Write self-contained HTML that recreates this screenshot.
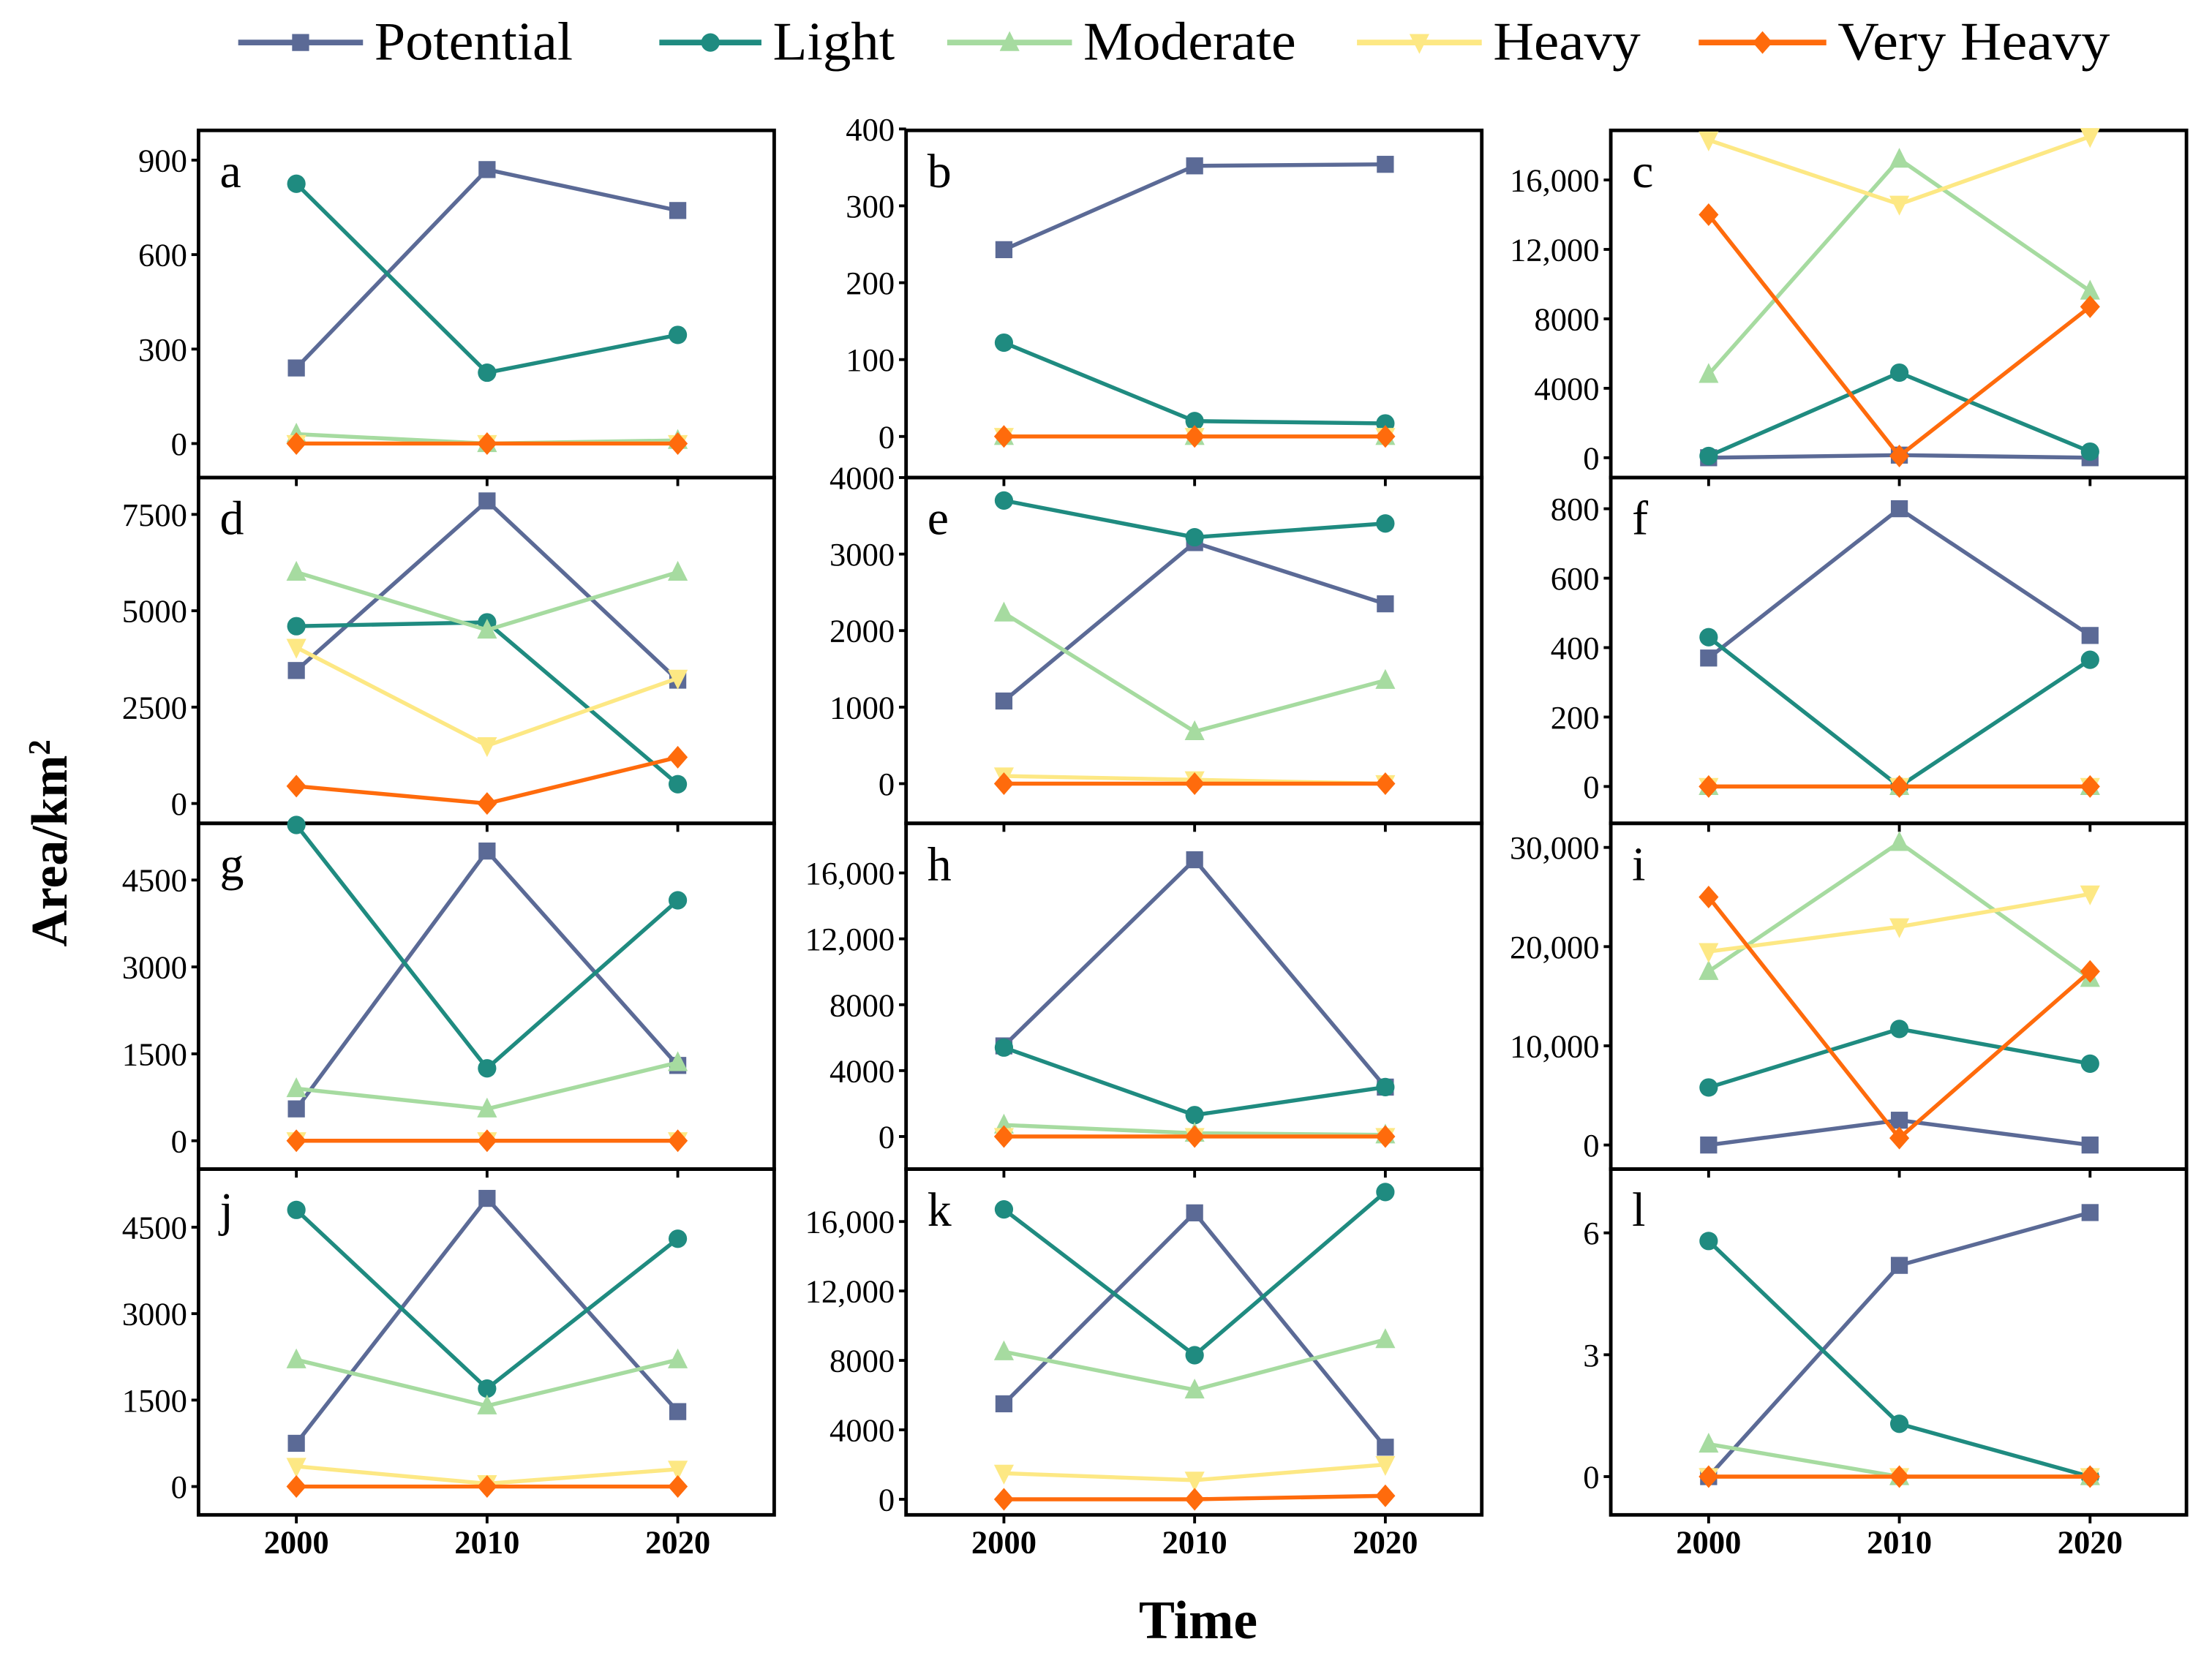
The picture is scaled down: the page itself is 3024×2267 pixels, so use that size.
<!DOCTYPE html>
<html><head><meta charset="utf-8"><title>Area by degradation class</title>
<style>
html,body{margin:0;padding:0;background:#fff;}
svg{display:block;}
text{font-family:"Liberation Serif","DejaVu Serif",serif;}
</style></head>
<body>
<svg id="chart" width="3024" height="2267" viewBox="0 0 1560 1170" preserveAspectRatio="none" xmlns="http://www.w3.org/2000/svg"></svg>
<script>
const years = [2000, 2010, 2020];
const seriesNames = ["Potential","Light","Moderate","Heavy","Very Heavy"];
const panelLetters = ["a","b","c","d","e","f","g","h","i","j","k","l"];
// values per panel: [Potential, Light, Moderate, Heavy, Very Heavy]
const valsA = [[240,870,740],[825,225,345],[30,0,10],[0,0,0],[0,0,0]];
const valsB = [[243,352,354],[122,20,17],[0,0,0],[0,0,0],[0,0,0]];
const valsC = [[0,150,0],[100,4900,350],[4800,17200,9600],[18300,14600,18500],[14000,100,8700]];
const valsD = [[3450,7850,3200],[4600,4700,500],[6000,4500,6000],[4050,1500,3250],[450,0,1200]];
const valsE = [[1080,3150,2350],[3700,3220,3400],[2230,680,1350],[100,50,0],[0,0,0]];
const valsF = [[370,800,435],[430,0,365],[0,0,0],[0,0,0],[0,0,0]];
const valsG = [[550,5000,1300],[5450,1250,4150],[900,550,1350],[0,0,0],[0,0,0]];
const valsH = [[5500,16800,3000],[5400,1300,3000],[700,200,100],[0,0,0],[0,0,0]];
const valsI = [[0,2500,0],[5800,11700,8200],[17500,30500,16800],[19500,22000,25300],[25000,700,17500]];
const valsJ = [[750,5000,1300],[4800,1700,4300],[2200,1400,2200],[350,50,300],[0,0,0]];
const valsK = [[5500,16500,3000],[16700,8300,17700],[8500,6300,9200],[1500,1100,2000],[0,0,200]];
const valsL = [[0,5.2,6.5],[5.8,1.3,0],[0.8,0,0],[0,0,0],[0,0,0]];
const ticksA=[0,300,600,900], ticksB=[0,100,200,300,400], ticksC=[0,4000,8000,12000,16000];
const ticksD=[0,2500,5000,7500], ticksE=[0,1000,2000,3000,4000], ticksF=[0,200,400,600,800];
const ticksG=[0,1500,3000,4500], ticksH=[0,4000,8000,12000,16000], ticksI=[0,10000,20000,30000];
const ticksJ=[0,1500,3000,4500], ticksK=[0,4000,8000,12000,16000], ticksL=[0,3,6];
const tickLabelsC=["0","4000","8000","12,000","16,000"];
const tickLabelsI=["0","10,000","20,000","30,000"];

const panels = [
 {v:valsA,t:ticksA,top:[900,113],zero:313},
 {v:valsB,t:ticksB,top:[400,91],zero:308},
 {v:valsC,t:ticksC,lab:tickLabelsC,top:[16000,127],zero:323},
 {v:valsD,t:ticksD,top:[7500,363],zero:567},
 {v:valsE,t:ticksE,top:[4000,337],zero:553},
 {v:valsF,t:ticksF,top:[800,359],zero:555},
 {v:valsG,t:ticksG,top:[4500,621],zero:805},
 {v:valsH,t:ticksH,lab:tickLabelsC,top:[16000,616],zero:802},
 {v:valsI,t:ticksI,lab:tickLabelsI,top:[30000,598],zero:808},
 {v:valsJ,t:ticksJ,top:[4500,866],zero:1049},
 {v:valsK,t:ticksK,lab:tickLabelsC,top:[16000,862],zero:1058},
 {v:valsL,t:ticksL,top:[6,870],zero:1042}
];
const colors=["#5b6a96","#1f8b80","#a6dba0","#fde884","#ff6b0c"];
const colLeft=[140,639,1136], colW=402;
const rowTop=[92,337,581,825], rowBottom=1069;
const NS="http://www.w3.org/2000/svg";
const svg=document.getElementById('chart');
function el(tag,attrs,parent){const e=document.createElementNS(NS,tag);for(const k in attrs)e.setAttribute(k,attrs[k]);(parent||svg).appendChild(e);return e;}
function marker(g,k,x,y,c){
  let m;
  if(k===0){m=el('rect',{x:x-6,y:y-6,width:12,height:12,fill:c},g);}
  else if(k===1){m=el('circle',{cx:x,cy:y,r:6.5,fill:c},g);}
  else if(k===2){m=el('polygon',{points:`${x},${y-8} ${x-7},${y+6} ${x+7},${y+6}`,fill:c},g);}
  else if(k===3){m=el('polygon',{points:`${x},${y+8} ${x-7},${y-6} ${x+7},${y-6}`,fill:c},g);}
  else {m=el('polygon',{points:`${x},${y-8} ${x+7},${y} ${x},${y+8} ${x-7},${y}`,fill:c},g);}
  return m;
}
panels.forEach((p,i)=>{
  const col=i%3,row=Math.floor(i/3);
  const L=colLeft[col], T=rowTop[row], B=(row<3?rowTop[row+1]:rowBottom);
  const xScale=yr=>L+69+(yr-2000)*13.45;
  const yScale=v=>p.zero-(v/p.top[0])*(p.zero-p.top[1]);
  const g=el('g',{});
  
  
  const fr=el('rect',{x:L,y:T,width:colW+4,height:B-T,fill:'none',stroke:'#000','stroke-width':2.5},g);
  
  
  p.t.forEach((tv,j)=>{
    const y=yScale(tv);
    el('line',{x1:L-5,y1:y,x2:L,y2:y,stroke:'#000','stroke-width':2},g);
    const tx=el('text',{x:L-8,y:y+8,'font-size':23,'text-anchor':'end',fill:'#000'},g);
    tx.textContent=p.lab?p.lab[j]:String(tv);
    
    
  });
  years.forEach(yr=>{el('line',{x1:xScale(yr),y1:B,x2:xScale(yr),y2:B+6,stroke:'#000','stroke-width':2},g);});
  const lt=el('text',{x:L+15,y:T+40,'font-size':34,fill:'#000'},g);
  lt.textContent=panelLetters[i];
  
  
  p.v.forEach((vals,k)=>{
    const sg=el('g',{},g);
    
    
    el('polyline',{points:vals.map((v,j)=>xScale(years[j])+','+yScale(v)).join(' '),fill:'none',stroke:colors[k],'stroke-width':2.8},sg);
    vals.forEach((v,j)=>{
      const m=marker(sg,k,xScale(years[j]),yScale(v),colors[k]);
      
      
    });
  });
  if(row===3){
    years.forEach(yr=>{
      const tx=el('text',{x:xScale(yr),y:1096,'font-size':23,'font-weight':'bold','text-anchor':'middle',fill:'#000'},g);
      tx.textContent=String(yr);
      
      
    });
  }
});
// legend
const legX=[168,465,668,957,1198], legW=[88,72,88,88,90];
seriesNames.forEach((n,k)=>{
  const g=el('g',{});
  
  
  el('line',{x1:legX[k],y1:30,x2:legX[k]+legW[k],y2:30,stroke:colors[k],'stroke-width':4},g);
  marker(g,k,legX[k]+legW[k]/2,30,colors[k]);
  const t=el('text',{x:legX[k]+legW[k]+8,y:42,'font-size':38,fill:'#000',textLength:[140,86,150,104,192][k],lengthAdjust:'spacingAndGlyphs'},g);
  t.textContent=n;
});
const yt=el('text',{x:0,y:0,'font-size':36,'font-weight':'bold','text-anchor':'middle',transform:'translate(47,595) rotate(-90)',fill:'#000'});
yt.innerHTML='Area/km<tspan baseline-shift="super" font-size="22">2</tspan>';


const xt=el('text',{x:845,y:1156,'font-size':38,'font-weight':'bold','text-anchor':'middle',fill:'#000'});
xt.textContent='Time';


</script>
</body></html>
